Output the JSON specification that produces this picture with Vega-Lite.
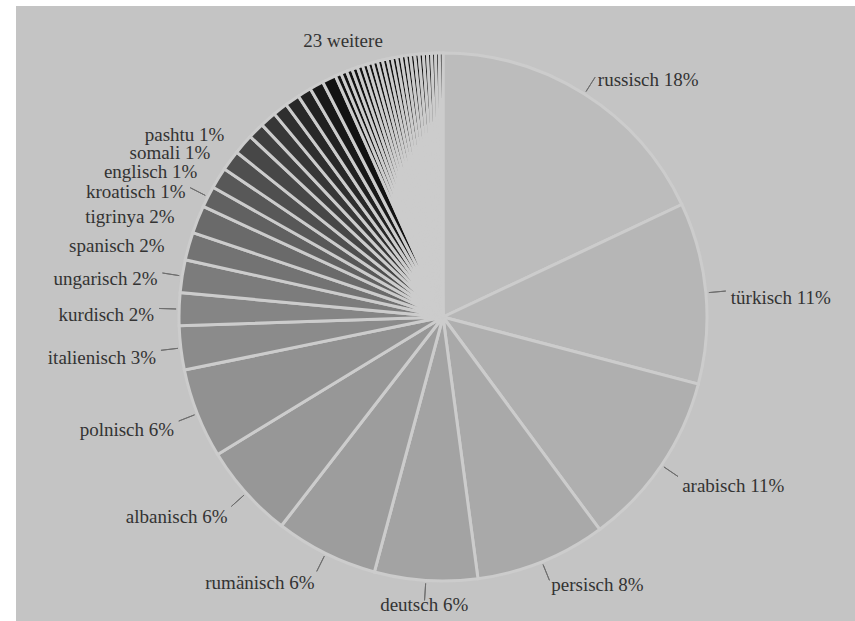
{
  "$schema": "https://vega.github.io/schema/vega-lite/v6.json",
  "width": 855,
  "height": 621,
  "autosize": {"type": "fit", "contains": "padding"},
  "padding": {"left": 16, "top": 6, "right": 0, "bottom": 0},
  "background": "#ffffff",
  "view": {"fill": "#c4c4c4", "stroke": null},
  "config": {"view": {"fill": "#c4c4c4", "stroke": null}, "text": {"font": "Liberation Serif"}},
  "datasets": {
    "sprachen": [
      {"rang": 1, "sprache": "russisch", "anteil": 18.0},
      {"rang": 2, "sprache": "türkisch", "anteil": 11.1},
      {"rang": 3, "sprache": "arabisch", "anteil": 10.8},
      {"rang": 4, "sprache": "persisch", "anteil": 8.0},
      {"rang": 5, "sprache": "deutsch", "anteil": 6.3},
      {"rang": 6, "sprache": "rumänisch", "anteil": 6.3},
      {"rang": 7, "sprache": "albanisch", "anteil": 5.8},
      {"rang": 8, "sprache": "polnisch", "anteil": 5.5},
      {"rang": 9, "sprache": "italienisch", "anteil": 2.7},
      {"rang": 10, "sprache": "kurdisch", "anteil": 2.0},
      {"rang": 11, "sprache": "ungarisch", "anteil": 2.0},
      {"rang": 12, "sprache": "spanisch", "anteil": 1.7},
      {"rang": 13, "sprache": "tigrinya", "anteil": 1.7},
      {"rang": 14, "sprache": "kroatisch", "anteil": 1.3},
      {"rang": 15, "sprache": "englisch", "anteil": 1.3},
      {"rang": 16, "sprache": "somali", "anteil": 1.25},
      {"rang": 17, "sprache": "pashtu", "anteil": 1.25},
      {"rang": 18, "sprache": null, "anteil": 1.0},
      {"rang": 19, "sprache": null, "anteil": 1.0},
      {"rang": 20, "sprache": null, "anteil": 0.9},
      {"rang": 21, "sprache": null, "anteil": 0.9},
      {"rang": 22, "sprache": null, "anteil": 0.85},
      {"rang": 23, "sprache": null, "anteil": 0.85},
      {"rang": 24, "sprache": null, "anteil": 0.85},
      {"rang": 25, "sprache": null, "anteil": 0.37},
      {"rang": 26, "sprache": null, "anteil": 0.36},
      {"rang": 27, "sprache": null, "anteil": 0.35},
      {"rang": 28, "sprache": null, "anteil": 0.34},
      {"rang": 29, "sprache": null, "anteil": 0.33},
      {"rang": 30, "sprache": null, "anteil": 0.32},
      {"rang": 31, "sprache": null, "anteil": 0.31},
      {"rang": 32, "sprache": null, "anteil": 0.31},
      {"rang": 33, "sprache": null, "anteil": 0.30},
      {"rang": 34, "sprache": null, "anteil": 0.30},
      {"rang": 35, "sprache": null, "anteil": 0.29},
      {"rang": 36, "sprache": null, "anteil": 0.29},
      {"rang": 37, "sprache": null, "anteil": 0.28},
      {"rang": 38, "sprache": null, "anteil": 0.28},
      {"rang": 39, "sprache": null, "anteil": 0.27},
      {"rang": 40, "sprache": null, "anteil": 0.27},
      {"rang": 41, "sprache": null, "anteil": 0.26},
      {"rang": 42, "sprache": null, "anteil": 0.26},
      {"rang": 43, "sprache": null, "anteil": 0.25},
      {"rang": 44, "sprache": null, "anteil": 0.25},
      {"rang": 45, "sprache": null, "anteil": 0.24},
      {"rang": 46, "sprache": null, "anteil": 0.23},
      {"rang": 47, "sprache": null, "anteil": 0.22}
    ],
    "beschriftungen": [
      {"rang": 1, "sprache": "russisch", "anteil": 18.0, "beschriftung": "russisch 18%"},
      {"rang": 2, "sprache": "türkisch", "anteil": 11.1, "beschriftung": "türkisch 11%"},
      {"rang": 3, "sprache": "arabisch", "anteil": 10.8, "beschriftung": "arabisch 11%"},
      {"rang": 4, "sprache": "persisch", "anteil": 8.0, "beschriftung": "persisch 8%"},
      {"rang": 5, "sprache": "deutsch", "anteil": 6.3, "beschriftung": "deutsch 6%"},
      {"rang": 6, "sprache": "rumänisch", "anteil": 6.3, "beschriftung": "rumänisch 6%"},
      {"rang": 7, "sprache": "albanisch", "anteil": 5.8, "beschriftung": "albanisch 6%"},
      {"rang": 8, "sprache": "polnisch", "anteil": 5.5, "beschriftung": "polnisch 6%"},
      {"rang": 9, "sprache": "italienisch", "anteil": 2.7, "beschriftung": "italienisch 3%"},
      {"rang": 10, "sprache": "kurdisch", "anteil": 2.0, "beschriftung": "kurdisch 2%"},
      {"rang": 11, "sprache": "ungarisch", "anteil": 2.0, "beschriftung": "ungarisch 2%"},
      {"rang": 12, "sprache": "spanisch", "anteil": 1.7, "beschriftung": "spanisch 2%"},
      {"rang": 13, "sprache": "tigrinya", "anteil": 1.7, "beschriftung": "tigrinya 2%"},
      {"rang": 14, "sprache": "kroatisch", "anteil": 1.3, "beschriftung": "kroatisch 1%"},
      {"rang": 15, "sprache": "englisch", "anteil": 1.3, "beschriftung": "englisch 1%"},
      {"rang": 16, "sprache": "somali", "anteil": 1.25, "beschriftung": "somali 1%"},
      {"rang": 17, "sprache": "pashtu", "anteil": 1.25, "beschriftung": "pashtu 1%"},
      {"rang": 18, "sprache": null, "anteil": 1.0, "beschriftung": ""},
      {"rang": 19, "sprache": null, "anteil": 1.0, "beschriftung": ""},
      {"rang": 20, "sprache": null, "anteil": 0.9, "beschriftung": ""},
      {"rang": 21, "sprache": null, "anteil": 0.9, "beschriftung": ""},
      {"rang": 22, "sprache": null, "anteil": 0.85, "beschriftung": ""},
      {"rang": 23, "sprache": null, "anteil": 0.85, "beschriftung": ""},
      {"rang": 24, "sprache": null, "anteil": 0.85, "beschriftung": ""},
      {"rang": 25, "sprache": "23 weitere", "anteil": 6.68, "beschriftung": "23 weitere"}
    ]
  },
  "layer": [
    {
      "data": {"name": "sprachen"},
      "mark": {"type": "arc", "outerRadius": 264, "stroke": "#cccccc", "strokeWidth": 3, "xOffset": 7.5, "yOffset": 3.5},
      "encoding": {
        "theta": {"field": "anteil", "type": "quantitative", "stack": true},
        "order": {"field": "rang", "type": "quantitative"},
        "color": {
          "field": "rang",
          "type": "quantitative",
          "scale": {"domain": [1, 10, 17, 24], "range": ["#bcbcbc", "#858585", "#474747", "#121212"], "clamp": true},
          "legend": null
        }
      }
    },
    {
      "data": {"name": "beschriftungen"},
      "mark": {"type": "arc", "innerRadius": 267, "outerRadius": 284, "padAngle": 3.14, "fill": null, "stroke": "#6e6e6e", "strokeWidth": 1, "xOffset": 7.5, "yOffset": 3.5},
      "encoding": {
        "theta": {"field": "anteil", "type": "quantitative", "stack": true},
        "order": {"field": "rang", "type": "quantitative"},
        "strokeOpacity": {
          "condition": {"test": "datum.beschriftung != '' && indexof(['spanisch', 'tigrinya', 'englisch', 'somali', 'pashtu', '23 weitere'], datum.sprache) < 0", "value": 1},
          "value": 0
        }
      }
    },
    {
      "data": {"name": "beschriftungen"},
      "mark": {
        "type": "text",
        "radius": 289,
        "font": "Liberation Serif, Times New Roman, serif",
        "fontSize": 19,
        "fill": "#333333",
        "xOffset": 7.5,
        "yOffset": 3.5,
        "align": {"expr": "sin(scale('theta', 0.5 * datum.anteil_start + 0.5 * datum.anteil_end)) > 0.15 ? 'left' : (sin(scale('theta', 0.5 * datum.anteil_start + 0.5 * datum.anteil_end)) < -0.15 ? 'right' : 'center')"},
        "dy": {"expr": "cos(scale('theta', 0.5 * datum.anteil_start + 0.5 * datum.anteil_end)) < -0.9 ? 0 : 7"},
        "baseline": "middle"
      },
      "encoding": {
        "theta": {"field": "anteil", "type": "quantitative", "stack": true},
        "order": {"field": "rang", "type": "quantitative"},
        "text": {"field": "beschriftung"}
      }
    }
  ]
}
